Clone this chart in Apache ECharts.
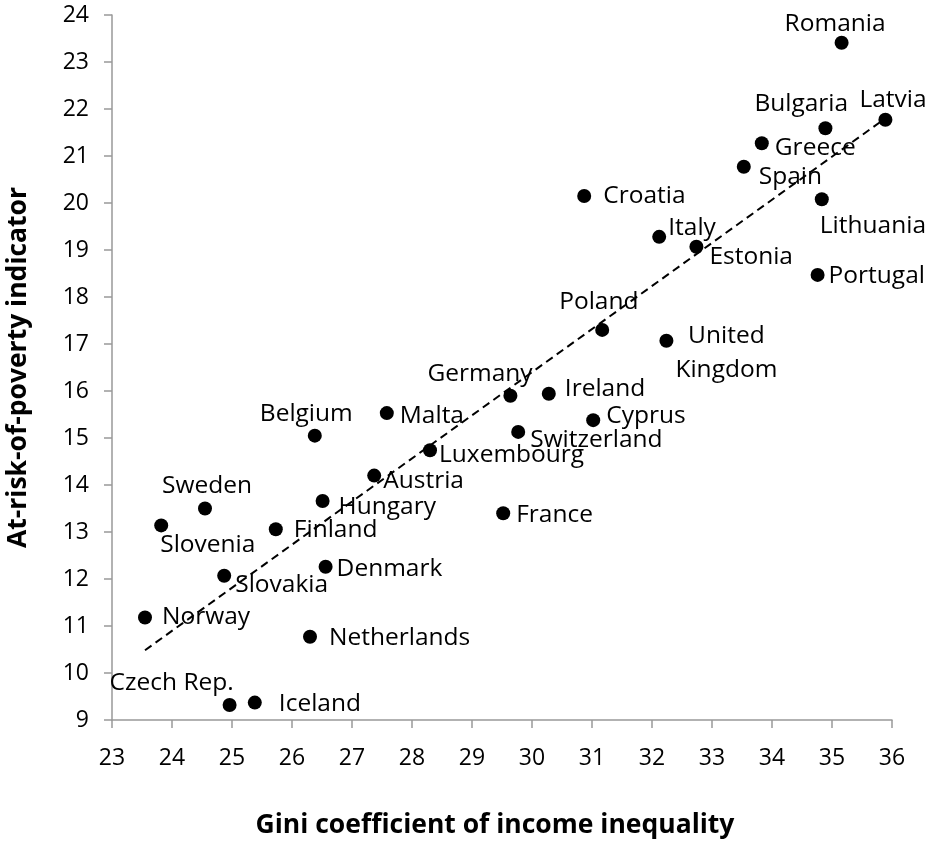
<!DOCTYPE html>
<html>
<head>
<meta charset="utf-8">
<script src="https://cdn.jsdelivr.net/npm/echarts@6/dist/echarts.min.js"></script>
<style>
  html, body { margin: 0; padding: 0; background: #fff; }
  #chart { width: 928px; height: 841px; }
</style>
</head>
<body>
<div id="chart"></div>
<script>
// data
const countries = [
  "Romania", "Latvia", "Bulgaria", "Greece", "Spain", "Lithuania", "Croatia",
  "Italy", "Estonia", "Portugal", "Poland", "United\nKingdom", "Germany",
  "Ireland", "Cyprus", "Switzerland", "Luxembourg", "France", "Belgium",
  "Malta", "Austria", "Hungary", "Sweden", "Slovenia", "Finland", "Denmark",
  "Slovakia", "Norway", "Netherlands", "Czech Rep.", "Iceland"
];
const gini = [
  35.16, 35.89, 34.89, 33.83, 33.53, 34.83, 30.87,
  32.12, 32.74, 34.76, 31.17, 32.24, 29.64,
  30.28, 31.02, 29.77, 28.30, 29.52, 26.38,
  27.58, 27.37, 26.51, 24.55, 23.82, 25.73, 26.56,
  24.87, 23.55, 26.30, 24.96, 25.38
];
const poverty = [
  23.41, 21.77, 21.59, 21.27, 20.77, 20.08, 20.15,
  19.28, 19.07, 18.47, 17.30, 17.07, 15.90,
  15.94, 15.38, 15.13, 14.74, 13.40, 15.05,
  15.53, 14.20, 13.66, 13.50, 13.14, 13.06, 12.26,
  12.07, 11.18, 10.77, 9.32, 9.37
];
const xTicks = { min: 23, max: 36, step: 1 };
const yTicks = { min: 9, max: 24, step: 1 };

// label placement: [dx, dy, align] from the dot centre
const labelPlace = {
  "Romania": [-57, -19, "left"],
  "Latvia": [-26, -20, "left"],
  "Bulgaria": [-71, -24, "left"],
  "Greece": [13, 5, "left"],
  "Spain": [15, 10, "left"],
  "Lithuania": [-2, 27, "left"],
  "Croatia": [19, 0, "left"],
  "Italy": [9, -9, "left"],
  "Estonia": [13, 10, "left"],
  "Portugal": [11, 1, "left"],
  "Poland": [-43, -28, "left"],
  "United\nKingdom": [60, 12, "center"],
  "Germany": [-83, -22, "left"],
  "Ireland": [16, -5, "left"],
  "Cyprus": [13, -4, "left"],
  "Switzerland": [12, 8, "left"],
  "Luxembourg": [9, 5, "left"],
  "France": [13, 2, "left"],
  "Belgium": [-55, -22, "left"],
  "Malta": [13, 3, "left"],
  "Austria": [9, 5, "left"],
  "Hungary": [16, 6, "left"],
  "Sweden": [-43, -22, "left"],
  "Slovenia": [-1, 20, "left"],
  "Finland": [18, 1, "left"],
  "Denmark": [11, 2, "left"],
  "Slovakia": [11, 9, "left"],
  "Norway": [17, -1, "left"],
  "Netherlands": [19, 1, "left"],
  "Czech Rep.": [-120, -22, "left"],
  "Iceland": [24, 1, "left"]
};

const FONT = "'Open Sans', 'Noto Sans', sans-serif";

// least-squares trend line over the data range
const n = gini.length;
const mx = gini.reduce((a, b) => a + b, 0) / n;
const my = poverty.reduce((a, b) => a + b, 0) / n;
let sxy = 0, sxx = 0;
for (let i = 0; i < n; i++) {
  sxy += (gini[i] - mx) * (poverty[i] - my);
  sxx += (gini[i] - mx) * (gini[i] - mx);
}
const slope = sxy / sxx;
const intercept = my - slope * mx;
const xLo = Math.min(...gini), xHi = Math.max(...gini);
const trend = [[xLo, intercept + slope * xLo], [xHi, intercept + slope * xHi]];

const points = countries.map((c, i) => {
  const p = labelPlace[c];
  return {
    name: c,
    value: [gini[i], poverty[i]],
    label: { offset: [p[0], p[1]], align: p[2] }
  };
});

const chart = echarts.init(document.getElementById("chart"));
chart.setOption({
  animation: false,
  backgroundColor: "#fff",
  grid: {
    left: 112, right: 36, top: 15, bottom: 121,
    containLabel: false,
    outerBoundsMode: "none"
  },
  xAxis: {
    type: "value",
    min: xTicks.min,
    max: xTicks.max,
    interval: xTicks.step,
    name: "Gini coefficient of income inequality",
    nameLocation: "middle",
    nameGap: 92,
    nameTextStyle: {
      fontFamily: FONT, fontSize: 26.5, fontWeight: "bold", color: "#000",
      padding: [0, 14, 0, 0]
    },
    axisLine: { lineStyle: { color: "#999", width: 1.5 } },
    axisTick: { show: true, length: 8, lineStyle: { color: "#999", width: 1.5 } },
    axisLabel: { margin: 27, fontFamily: FONT, fontSize: 23, color: "#000" },
    splitLine: { show: false }
  },
  yAxis: {
    type: "value",
    min: yTicks.min,
    max: yTicks.max,
    interval: yTicks.step,
    name: "At-risk-of-poverty indicator",
    nameLocation: "middle",
    nameRotate: 90,
    nameGap: 80,
    nameTextStyle: { fontFamily: FONT, fontSize: 26.5, fontWeight: "bold", color: "#000" },
    axisLine: { show: true, lineStyle: { color: "#999", width: 1.5 } },
    axisTick: { show: true, length: 8, lineStyle: { color: "#999", width: 1.5 } },
    axisLabel: { margin: 23, fontFamily: FONT, fontSize: 23, color: "#000" },
    splitLine: { show: false }
  },
  series: [
    {
      type: "line",
      data: trend,
      symbol: "none",
      silent: true,
      lineStyle: { color: "#000", width: 2, type: [8, 5] },
      z: 1
    },
    {
      type: "scatter",
      data: points,
      symbolSize: 14,
      itemStyle: { color: "#000", opacity: 1 },
      label: {
        show: true,
        position: "inside",
        formatter: "{b}",
        verticalAlign: "middle",
        fontFamily: FONT,
        fontSize: 24.5,
        lineHeight: 34,
        color: "#000"
      },
      z: 2
    }
  ]
});
</script>
</body>
</html>
